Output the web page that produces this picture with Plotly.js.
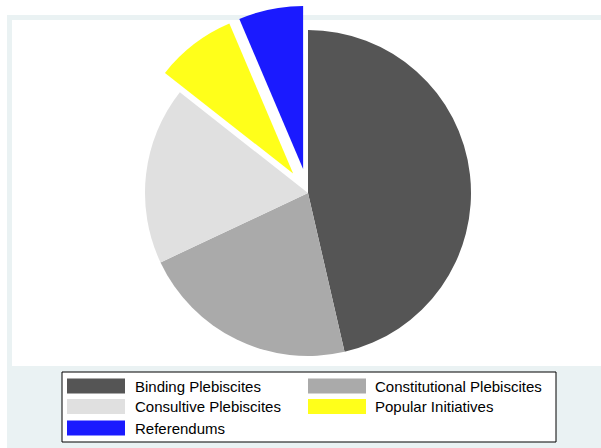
<!DOCTYPE html>
<html>
<head>
<meta charset="utf-8">
<script src="https://cdn.plot.ly/plotly-3.0.1.min.js"></script>
<style>html,body{margin:0;padding:0;background:#fff;}#chart{width:601px;height:448px;}</style>
</head>
<body>
<div id="chart"></div>
<script>
// ---- data ----
var categories = ["Binding Plebiscites", "Constitutional Plebiscites", "Consultive Plebiscites", "Popular Initiatives", "Referendums"];
var counts = [58, 27, 22, 10, 8];
var sliceColors = ["#555555", "#AAAAAA", "#E0E0E0", "#FFFF1A", "#1A1AFF"];
var pulls = [0, 0, 0, 0.15, 0.15];

// ---- layout helpers ----
var W = 601, H = 448;
function px(x) { return x / W; }
function py(y) { return 1 - y / H; }

var cx = 308, cy = 193, r = 163;
var half = r * (1 + Math.max.apply(null, pulls));

var trace = {
  type: "pie",
  labels: categories,
  values: counts,
  marker: { colors: sliceColors, line: { width: 0 } },
  pull: pulls,
  sort: false,
  direction: "clockwise",
  rotation: 0,
  textinfo: "none",
  hoverinfo: "label+value",
  showlegend: false,
  domain: { x: [px(cx - half), px(cx + half)], y: [py(cy + half), py(cy - half)] }
};

var shapes = [
  { type: "rect", xref: "paper", yref: "paper", layer: "below", x0: px(7), x1: 1, y0: 0, y1: py(15), fillcolor: "#EAF2F3", line: { width: 0 } },
  { type: "rect", xref: "paper", yref: "paper", layer: "below", x0: px(12), x1: 1, y0: py(366), y1: py(20), fillcolor: "#FFFFFF", line: { width: 0 } },
  { type: "rect", xref: "paper", yref: "paper", layer: "above", x0: px(62), x1: px(556), y0: py(442), y1: py(372), fillcolor: "#FFFFFF", line: { color: "#000000", width: 1 } }
];
var annotations = [];
var colSwatchX = [67, 308], colTextX = [133, 373], rowY = [386, 406.5, 428];
for (var i = 0; i < categories.length; i++) {
  var c = i % 2, rw = Math.floor(i / 2);
  shapes.push({ type: "rect", xref: "paper", yref: "paper", layer: "above",
    x0: px(colSwatchX[c]), x1: px(colSwatchX[c] + 58), y0: py(rowY[rw] + 7.5), y1: py(rowY[rw] - 7.5),
    fillcolor: sliceColors[i], line: { width: 0 } });
  annotations.push({ xref: "paper", yref: "paper", x: px(colTextX[c]), y: py(rowY[rw]), xanchor: "left", yanchor: "middle",
    text: categories[i], showarrow: false, font: { family: "Liberation Sans, Arial, sans-serif", size: 15, color: "#000000" } });
}

var layout = {
  width: W, height: H,
  margin: { l: 0, r: 0, t: 0, b: 0 },
  paper_bgcolor: "#FFFFFF",
  showlegend: false,
  shapes: shapes,
  annotations: annotations
};

Plotly.newPlot("chart", [trace], layout, { displayModeBar: false, staticPlot: true });
</script>
</body>
</html>
